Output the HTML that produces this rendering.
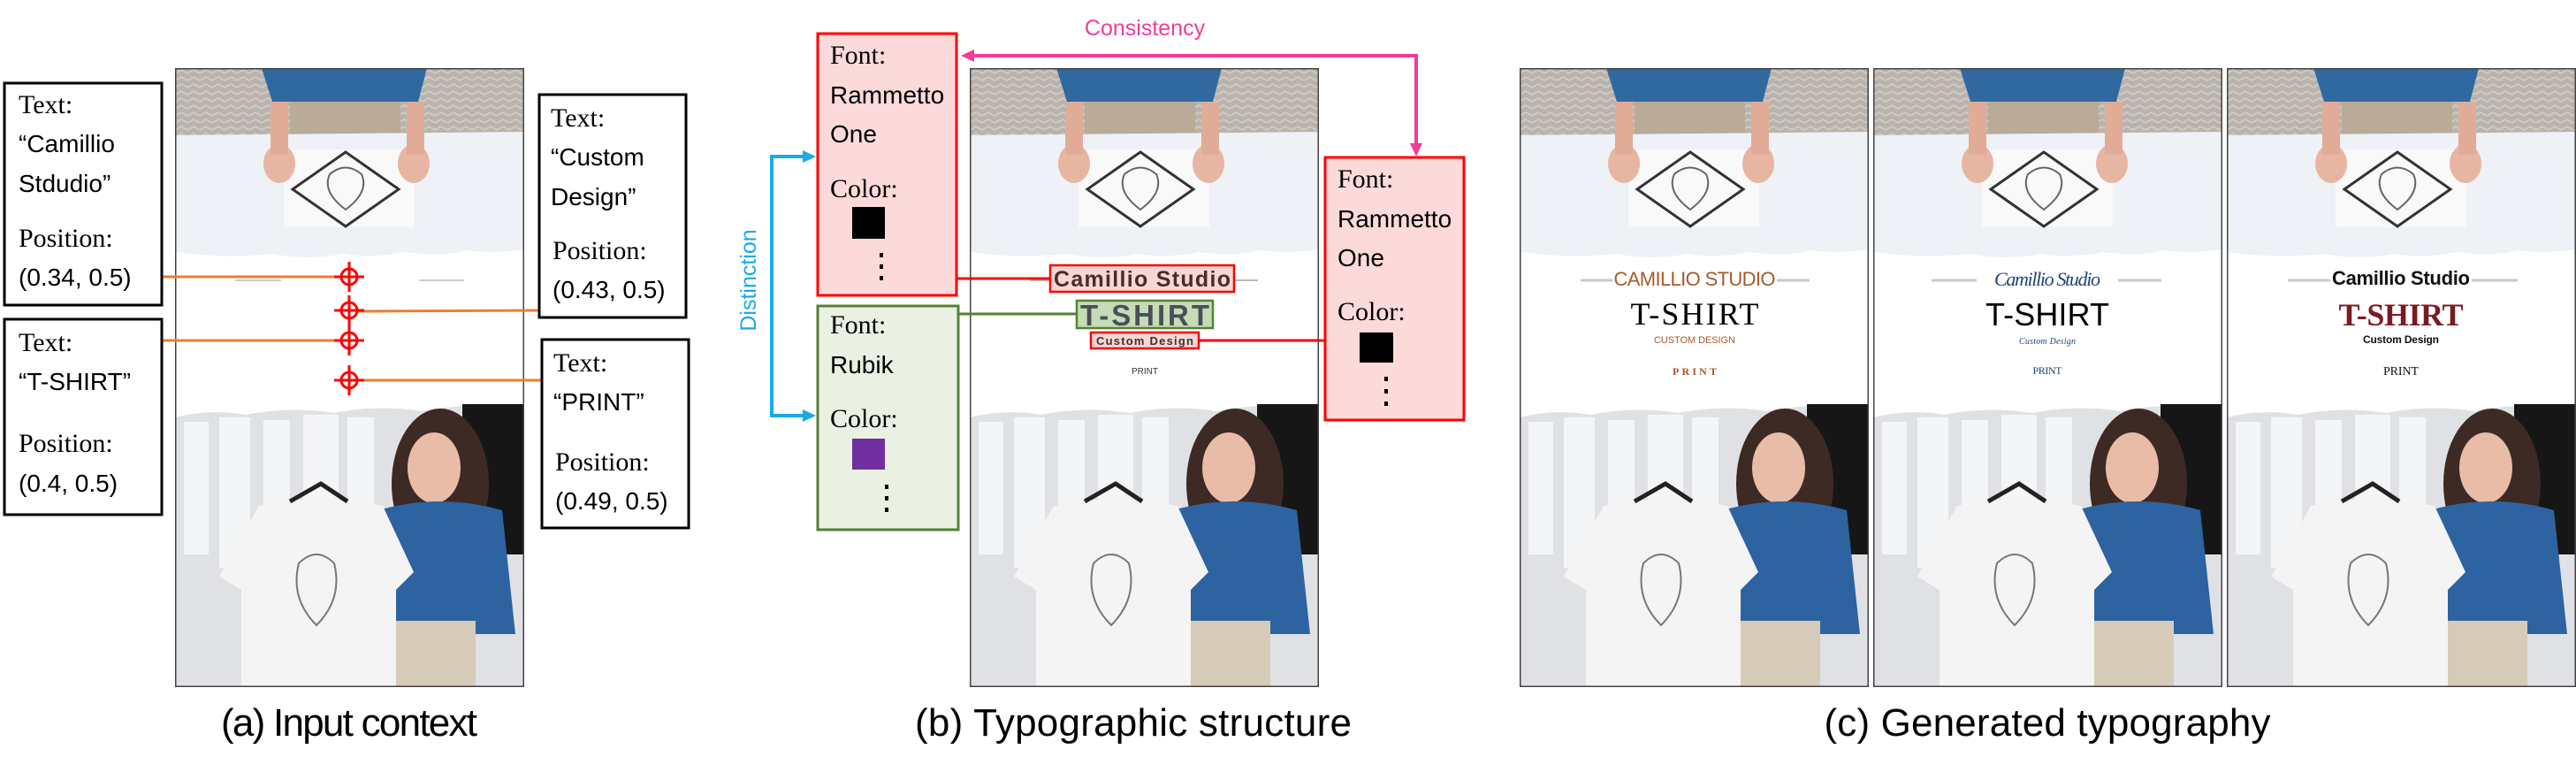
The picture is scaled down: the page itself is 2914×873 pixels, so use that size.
<!DOCTYPE html>
<html><head><meta charset="utf-8"><style>
html,body{margin:0;padding:0;background:#fff;}
svg{display:block;}
.s{font-family:"Liberation Serif",serif;font-size:30px;fill:#000;}
.a{font-family:"Liberation Sans",sans-serif;font-size:28px;fill:#000;}
.cap{font-family:"Liberation Sans",sans-serif;font-size:44px;fill:#000;}
</style></head><body>
<svg width="2914" height="873" viewBox="0 0 2914 873" xmlns="http://www.w3.org/2000/svg">
<defs>
<pattern id="zz" width="14" height="8" patternUnits="userSpaceOnUse">
<rect width="14" height="8" fill="#b9b3ac"/>
<path d="M0 6 L7 2 L14 6" stroke="#cfcac4" stroke-width="2" fill="none"/>
</pattern>
<symbol id="poster" viewBox="0 0 395 700">
<rect width="395" height="700" fill="#fff"/>
<rect width="395" height="80" fill="url(#zz)"/>
<path d="M130 10 L255 10 L255 78 L130 78Z" fill="#b9ab98"/>
<path d="M98 0 L285 0 L275 38 L110 38Z" fill="#2f69a0"/>
<path d="M0 76 L395 72 L395 205 Q360 210 330 206 Q300 214 260 208 Q220 216 190 210 Q150 218 110 210 Q60 216 0 208Z" fill="#eef1f5"/>
<rect x="123" y="92" width="148" height="88" fill="#f9f9f9"/>
<path d="M193 95 L253 137 L193 179 L133 137Z" fill="none" stroke="#333" stroke-width="3"/>
<path d="M175 120 Q193 105 211 120 Q220 140 193 160 Q166 140 175 120Z" fill="none" stroke="#666" stroke-width="2"/>
<ellipse cx="118" cy="108" rx="18" ry="22" fill="#e7b6a2"/>
<ellipse cx="270" cy="108" rx="18" ry="22" fill="#e7b6a2"/>
<rect x="108" y="38" width="20" height="60" fill="#e0ac98"/>
<rect x="262" y="38" width="20" height="60" fill="#e0ac98"/>
<path d="M0 395 Q40 385 80 392 Q130 382 180 390 Q230 380 280 388 Q330 378 395 383 L395 700 L0 700Z" fill="#dfe1e5"/>
<g fill="#f4f5f7"><rect x="10" y="400" width="28" height="150"/><rect x="50" y="395" width="35" height="170"/><rect x="100" y="398" width="30" height="160"/><rect x="145" y="392" width="40" height="150"/><rect x="195" y="395" width="30" height="110"/></g>
<rect x="325" y="380" width="70" height="170" fill="#161616"/>
<ellipse cx="300" cy="470" rx="55" ry="85" fill="#3d2a24"/>
<ellipse cx="293" cy="452" rx="30" ry="40" fill="#e9bca8"/>
<path d="M230 500 Q300 480 370 500 L385 640 L230 640Z" fill="#2d63a0"/>
<rect x="250" y="625" width="90" height="75" fill="#d6cbb8"/>
<path d="M95 495 Q160 480 235 495 L270 570 L250 590 L250 700 L75 700 L75 590 L50 575Z" fill="#f4f4f4"/>
<path d="M130 490 L165 470 L195 490" stroke="#222" stroke-width="5" fill="none"/>
<path d="M140 560 Q160 540 180 560 Q190 600 160 630 Q130 600 140 560Z" fill="none" stroke="#777" stroke-width="2"/>
<rect x="0.75" y="0.75" width="393.5" height="698.5" fill="none" stroke="#444" stroke-width="1.5"/>
</symbol>
</defs>

<!-- Panel a -->
<use href="#poster" x="198" y="77" width="395" height="700"/>
<g stroke="#ccc" stroke-width="2"><line x1="266" y1="317" x2="318" y2="317"/><line x1="474" y1="317" x2="525" y2="317"/></g>
<g stroke="#ee7d31" stroke-width="3">
<line x1="183" y1="313" x2="385" y2="313"/>
<line x1="405" y1="352" x2="610" y2="351"/>
<line x1="183" y1="385" x2="385" y2="385"/>
<line x1="405" y1="430" x2="613" y2="430"/>
</g>
<g stroke="#f00" stroke-width="3" fill="none">
<g transform="translate(395,313)"><circle r="9"/><line x1="-17" x2="17"/><line y1="-17" y2="17"/></g>
<g transform="translate(395,351)"><circle r="9"/><line x1="-17" x2="17"/><line y1="-17" y2="17"/></g>
<g transform="translate(395,385)"><circle r="9"/><line x1="-17" x2="17"/><line y1="-17" y2="17"/></g>
<g transform="translate(395,430)"><circle r="9"/><line x1="-17" x2="17"/><line y1="-17" y2="17"/></g>
</g>
<g fill="#fff" stroke="#000" stroke-width="3">
<rect x="5" y="94" width="178" height="251"/>
<rect x="5" y="361" width="178" height="221"/>
<rect x="610" y="107" width="166" height="252"/>
<rect x="613" y="384" width="166" height="213"/>
</g>
<text class="s" x="21" y="128">Text:</text>
<text class="a" x="21" y="172">“Camillio</text>
<text class="a" x="21" y="217">Stdudio”</text>
<text class="s" x="21" y="279">Position:</text>
<text class="a" x="21" y="323">(0.34, 0.5)</text>
<text class="s" x="21" y="397">Text:</text>
<text class="a" x="21" y="441">“T-SHIRT”</text>
<text class="s" x="21" y="511">Position:</text>
<text class="a" x="21" y="556">(0.4, 0.5)</text>
<text class="s" x="623" y="143">Text:</text>
<text class="a" x="623" y="187">“Custom</text>
<text class="a" x="623" y="232">Design”</text>
<text class="s" x="625" y="293">Position:</text>
<text class="a" x="625" y="337">(0.43, 0.5)</text>
<text class="s" x="626" y="420">Text:</text>
<text class="a" x="626" y="464">“PRINT”</text>
<text class="s" x="628" y="532">Position:</text>
<text class="a" x="628" y="576">(0.49, 0.5)</text>
<text class="cap" x="395" y="832" text-anchor="middle" textLength="290">(a) Input context</text>

<!-- Panel b -->
<use href="#poster" x="1097" y="77" width="395" height="700"/>
<line x1="1165" y1="317" x2="1423" y2="317" stroke="#bbb" stroke-width="2"/>
<line x1="1082" y1="315" x2="1188" y2="315" stroke="#f00" stroke-width="3"/>
<line x1="1084" y1="355" x2="1218" y2="355" stroke="#548235" stroke-width="3"/>
<line x1="1356" y1="385" x2="1499" y2="385" stroke="#f00" stroke-width="3"/>
<rect x="1188" y="300" width="208" height="30" fill="#f6d6d6" stroke="#f00" stroke-width="2.5"/>
<text x="1292" y="324" text-anchor="middle" textLength="200" font-family="Liberation Sans,sans-serif" font-weight="bold" font-size="25" fill="#4a2c2c">Camillio Studio</text>
<rect x="1218" y="340" width="154" height="31" fill="#c6dcb4" stroke="#548235" stroke-width="2.5"/>
<text x="1295" y="368" text-anchor="middle" textLength="146" font-family="Liberation Sans,sans-serif" font-weight="bold" font-size="33" fill="#4a4f5a">T-SHIRT</text>
<rect x="1234" y="376" width="122" height="18" fill="#f6d6d6" stroke="#f00" stroke-width="2.5"/>
<text x="1295" y="390" text-anchor="middle" textLength="110" font-family="Liberation Sans,sans-serif" font-weight="bold" font-size="13" fill="#4a2c2c">Custom Design</text>
<text x="1295" y="423" text-anchor="middle" font-family="Liberation Sans,sans-serif" font-size="10" fill="#333">PRINT</text>

<rect x="925" y="38" width="157" height="296" fill="#fddada" stroke="#f00" stroke-width="3"/>
<rect x="925" y="346" width="159" height="253" fill="#eaf1e3" stroke="#548235" stroke-width="3"/>
<rect x="1499" y="178" width="157" height="297" fill="#fddada" stroke="#f00" stroke-width="3"/>
<text class="s" x="939" y="72">Font:</text>
<text class="a" x="939" y="117">Rammetto</text>
<text class="a" x="939" y="161">One</text>
<text class="s" x="939" y="223">Color:</text>
<rect x="964" y="234" width="37" height="36" fill="#000"/>
<g fill="#000"><rect x="995" y="286" width="4" height="5"/><rect x="995" y="299" width="4" height="5"/><rect x="995" y="312" width="4" height="5"/></g>
<text class="s" x="939" y="377">Font:</text>
<text class="a" x="939" y="422">Rubik</text>
<text class="s" x="939" y="483">Color:</text>
<rect x="964" y="496" width="37" height="35" fill="#7030a0"/>
<g fill="#000"><rect x="1001" y="548" width="4" height="5"/><rect x="1001" y="561" width="4" height="5"/><rect x="1001" y="574" width="4" height="5"/></g>
<text class="s" x="1513" y="212">Font:</text>
<text class="a" x="1513" y="257">Rammetto</text>
<text class="a" x="1513" y="301">One</text>
<text class="s" x="1513" y="362">Color:</text>
<rect x="1538" y="376" width="38" height="34" fill="#000"/>
<g fill="#000"><rect x="1566" y="426" width="4" height="5"/><rect x="1566" y="440" width="4" height="5"/><rect x="1566" y="454" width="4" height="5"/></g>

<!-- consistency -->
<path d="M1100 63 L1602 63 L1602 164" fill="none" stroke="#f23c97" stroke-width="4"/>
<path d="M1087 63 L1102 56 L1102 70Z" fill="#f23c97"/>
<path d="M1602 177 L1595 162 L1609 162Z" fill="#f23c97"/>
<text x="1295" y="40" text-anchor="middle" font-family="Liberation Sans,sans-serif" font-size="25" fill="#f23c97">Consistency</text>
<!-- distinction -->
<path d="M911 177 L873 177 L873 470 L911 470" fill="none" stroke="#1aa9ea" stroke-width="4"/>
<path d="M923 177 L908 170 L908 184Z" fill="#1aa9ea"/>
<path d="M923 470 L908 463 L908 477Z" fill="#1aa9ea"/>
<text transform="translate(855,317) rotate(-90)" text-anchor="middle" font-family="Liberation Sans,sans-serif" font-size="25" fill="#1aa9ea">Distinction</text>
<text class="cap" x="1282" y="832" text-anchor="middle" textLength="494">(b) Typographic structure</text>

<!-- Panel c -->
<use href="#poster" x="1719" y="77" width="395" height="700"/>
<use href="#poster" x="2119" y="77" width="395" height="700"/>
<use href="#poster" x="2519" y="77" width="395" height="700"/>
<g stroke="#c8c8c8" stroke-width="3">
<line x1="1788" y1="317" x2="1824" y2="317"/><line x1="2010" y1="317" x2="2047" y2="317"/>
<line x1="2185" y1="317" x2="2236" y2="317"/><line x1="2396" y1="317" x2="2445" y2="317"/>
<line x1="2588" y1="317" x2="2636" y2="317"/><line x1="2796" y1="317" x2="2848" y2="317"/>
</g>
<text x="1917" y="323" text-anchor="middle" textLength="183" font-family="Liberation Sans,sans-serif" font-size="22" fill="#a65a2b">CAMILLIO STUDIO</text>
<text x="1917" y="367" text-anchor="middle" textLength="145" font-family="Liberation Serif,serif" font-size="36" fill="#000">T-SHIRT</text>
<text x="1917" y="388" text-anchor="middle" textLength="92" font-family="Liberation Sans,sans-serif" font-size="11" fill="#a65a2b">CUSTOM DESIGN</text>
<text x="1917" y="424" text-anchor="middle" textLength="50" font-family="Liberation Serif,serif" font-weight="bold" font-size="12" fill="#a65a2b">PRINT</text>

<text x="2316" y="323" text-anchor="middle" textLength="120" font-family="Liberation Serif,serif" font-style="italic" font-size="22" fill="#1f4477">Camillio Studio</text>
<text x="2316" y="368" text-anchor="middle" textLength="140" font-family="Liberation Sans,sans-serif" font-size="36" fill="#000">T-SHIRT</text>
<text x="2316" y="389" text-anchor="middle" textLength="64" font-family="Liberation Serif,serif" font-style="italic" font-size="10" fill="#1f4477">Custom Design</text>
<text x="2316" y="423" text-anchor="middle" textLength="33" font-family="Liberation Serif,serif" font-size="12" fill="#1f4477">PRINT</text>

<text x="2716" y="322" text-anchor="middle" textLength="156" font-family="Liberation Sans,sans-serif" font-weight="bold" font-size="22" fill="#111">Camillio Studio</text>
<text x="2716" y="368" text-anchor="middle" textLength="141" font-family="Liberation Serif,serif" font-weight="bold" font-size="36" fill="#7a1b22">T-SHIRT</text>
<text x="2716" y="388" text-anchor="middle" textLength="86" font-family="Liberation Sans,sans-serif" font-weight="bold" font-size="12" fill="#111">Custom Design</text>
<text x="2716" y="424" text-anchor="middle" textLength="40" font-family="Liberation Serif,serif" font-size="14" fill="#111">PRINT</text>
<text class="cap" x="2316" y="832" text-anchor="middle" textLength="505">(c) Generated typography</text>
</svg>
</body></html>
